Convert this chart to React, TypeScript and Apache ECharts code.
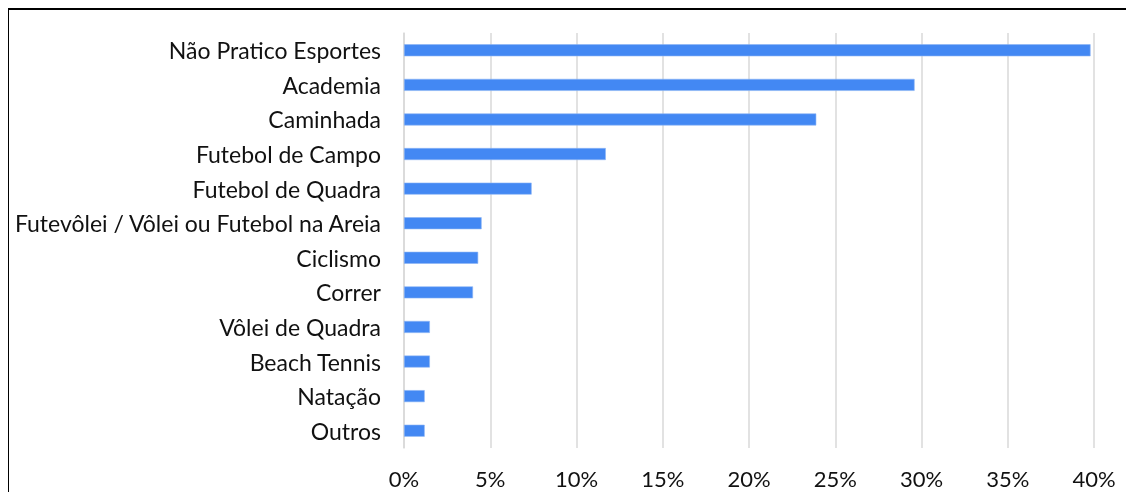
import React, { useEffect, useRef } from "react";
import * as echarts from "echarts";

const categories = [
  "Não Pratico Esportes",
  "Academia",
  "Caminhada",
  "Futebol de Campo",
  "Futebol de Quadra",
  "Futevôlei / Vôlei ou Futebol na Areia",
  "Ciclismo",
  "Correr",
  "Vôlei de Quadra",
  "Beach Tennis",
  "Natação",
  "Outros",
];

const values = [39.8, 29.6, 23.9, 11.7, 7.4, 4.5, 4.3, 4.0, 1.5, 1.5, 1.2, 1.2];

const xTicks = [0, 5, 10, 15, 20, 25, 30, 35, 40];

export default function App() {
  const ref = useRef<HTMLDivElement>(null);

  useEffect(() => {
    if (!ref.current) return;
    const chart = echarts.init(ref.current, null, { renderer: "svg" });
    const font = "Lato";
    chart.setOption({
      animation: false,
      backgroundColor: "transparent",
      grid: { left: 404, right: 32, top: 33, bottom: 44, containLabel: false },
      xAxis: {
        type: "value",
        min: xTicks[0],
        max: xTicks[xTicks.length - 1],
        interval: 5,
        axisLine: { show: false },
        axisTick: { show: false },
        splitLine: { show: true, lineStyle: { color: "#d9d9d9", width: 1.5 } },
        axisLabel: {
          formatter: (v: number) => `${v}%`,
          color: "#111",
          fontFamily: font,
          fontSize: 22,
          margin: 19,
        },
      },
      yAxis: {
        type: "category",
        data: categories,
        inverse: true,
        axisLine: { show: true, lineStyle: { color: "#d9d9d9", width: 1.5 } },
        axisTick: { show: false },
        axisLabel: {
          color: "#111",
          fontFamily: font,
          fontSize: 23,
          margin: 23,
        },
      },
      series: [
        {
          type: "bar",
          data: values,
          barWidth: 12,
          itemStyle: { color: "#4388f3", borderColor: "#8db5f5", borderWidth: 0.6 },
        },
      ],
    });
    return () => chart.dispose();
  }, []);

  return (
    <div>
      <div
        style={{
          position: "fixed",
          left: 8,
          top: 8,
          width: 1140,
          height: 500,
          boxSizing: "border-box",
          borderTop: "2px solid #000",
          borderLeft: "1.5px solid #000",
        }}
      />
      <div
        ref={ref}
        style={{ position: "fixed", left: 0, top: 0, width: 1126, height: 492 }}
      />
    </div>
  );
}
